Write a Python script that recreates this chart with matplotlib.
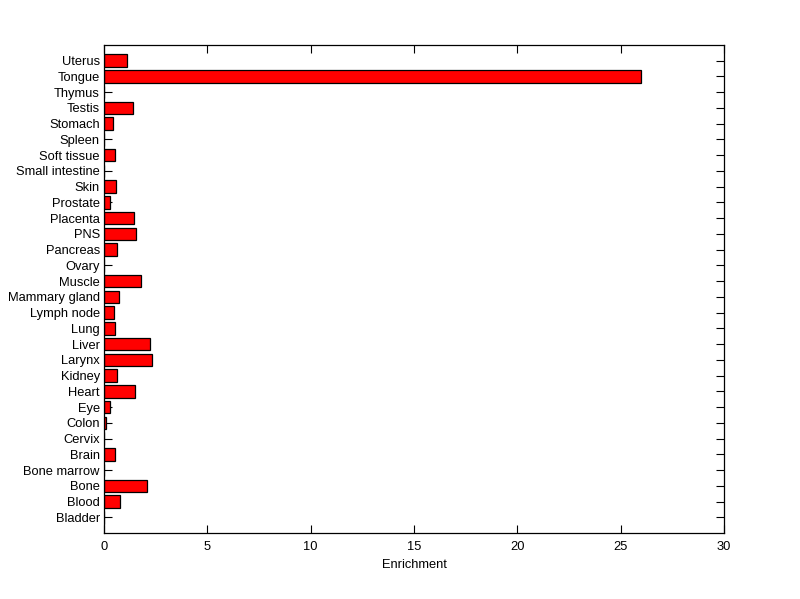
import matplotlib
matplotlib.use("Agg")
import matplotlib.pyplot as plt
import numpy as np

tissues = [
    "Bladder", "Blood", "Bone", "Bone marrow", "Brain", "Cervix", "Colon",
    "Eye", "Heart", "Kidney", "Larynx", "Liver", "Lung", "Lymph node",
    "Mammary gland", "Muscle", "Ovary", "Pancreas", "PNS", "Placenta",
    "Prostate", "Skin", "Small intestine", "Soft tissue", "Spleen",
    "Stomach", "Testis", "Thymus", "Tongue", "Uterus",
]
enrichment = [
    0.0, 0.79, 2.1, 0.0, 0.55, 0.0, 0.11,
    0.29, 1.52, 0.65, 2.34, 2.24, 0.55, 0.5,
    0.74, 1.81, 0.0, 0.65, 1.56, 1.43,
    0.29, 0.6, 0.0, 0.55, 0.0,
    0.45, 1.42, 0.0, 26.0, 1.11,
]
x_ticks = [0, 5, 10, 15, 20, 25, 30]

plt.rcParams["font.family"] = ["Liberation Sans", "DejaVu Sans"]
plt.rcParams["font.size"] = 9.3

fig = plt.figure(figsize=(8.0, 5.99), dpi=100, facecolor="white")
ax = fig.add_axes([0.13, 0.11, 0.775, 0.815])
ax.set_axisbelow(True)

pos = np.arange(1, len(tissues) + 1)
ax.barh(pos, enrichment, height=0.8, color="#ff0000",
        edgecolor="black", linewidth=0.9, zorder=2)

ax.set_xlim(0, 30)
ax.set_ylim(0, len(tissues) + 1)
ax.set_xticks(x_ticks)
ax.set_yticks(pos)
ax.set_yticklabels(tissues)
ax.set_xlabel("Enrichment", labelpad=4)

ax.tick_params(direction="in", length=6, width=0.8, top=True, right=True,
               colors="black")
ax.tick_params(axis="x", pad=6)
ax.tick_params(axis="y", pad=3)
for sp in ax.spines.values():
    sp.set_linewidth(0.9)
    sp.set_color("black")

fig.savefig("out.png", dpi=100, facecolor="white")
